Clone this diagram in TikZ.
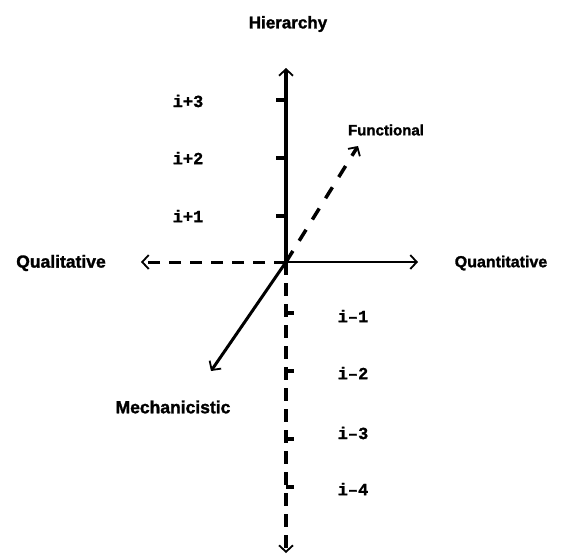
\documentclass[tikz,border=0pt]{standalone}
\usepackage{fontspec}
\setmainfont{Liberation Sans}[BoldFeatures={FakeBold=1.5}]
\newfontfamily\monof{Liberation Mono}[BoldFeatures={FakeBold=1}]
\usetikzlibrary{arrows.meta}
\begin{document}
\begin{tikzpicture}[x=1pt,y=-1pt,
  axtip/.style={-{Straight Barb[length=6.5pt,width=14pt,line width=1.8pt]}},
  lab/.style={font=\fontsize{16}{18}\selectfont\bfseries, inner sep=0pt},
  lvl/.style={font=\fontsize{17}{19}\selectfont\monof\bfseries, inner sep=0pt},
  dsh/.style={dash pattern=on 13pt off 8pt, line width=3.5pt},
  tick/.style={line width=4pt}]
\useasboundingbox (0,0) rectangle (561,558);
\coordinate (O) at (286,262);
\coordinate (up) at (286,68);
\coordinate (rt) at (418,262);
\coordinate (lf) at (141,262);
\coordinate (dn) at (286,553);
\coordinate (fn) at (358,146);
\coordinate (me) at (211,371);
% labels
\node[lab, font=\fontsize{17}{19}\selectfont\bfseries] (hier) at (288,24) {Hierarchy};
\node[lab, font=\fontsize{17.5}{19}\selectfont\bfseries] (qual) at (61,263) {Qualitative};
\node[lab] (quan) at (501,263) {Quantitative};
\node[lab, font=\fontsize{15}{17}\selectfont\bfseries] (func) at (386,130) {Functional};
\node[lab, font=\fontsize{17.5}{19}\selectfont\bfseries] (mech) at (173,407) {Mechanicistic};
\node[lvl] (p3) at (188,101) {i+3};
\node[lvl] (p2) at (188,158) {i+2};
\node[lvl] (p1) at (188,216) {i+1};
\node[lvl] (m1) at (353,316) {i–1};
\node[lvl] (m2) at (353,373) {i–2};
\node[lvl] (m3) at (353,433) {i–3};
\node[lvl] (m4) at (353,489) {i–4};
% axes
\draw[line width=3.5pt, axtip] (O) -- (up);
\draw[line width=2.5pt, axtip] (O) -- (rt);
\draw[dsh, dash pattern=on 12pt off 9pt, line width=3pt, axtip] (O) -- (lf);
\draw[dsh, axtip] (O) -- (dn);
\draw[dsh, dash pattern=on 13pt off 12pt, axtip] (O) -- (fn);
\draw[line width=3pt, axtip] (O) -- (me);
% ticks
\foreach \y in {100,158,216} \draw[tick] (276,\y) -- (286,\y);
\foreach \y in {313,371,439,487} \draw[tick, line width=3.5pt] (286,\y) -- (294,\y);
\end{tikzpicture}
\end{document}
